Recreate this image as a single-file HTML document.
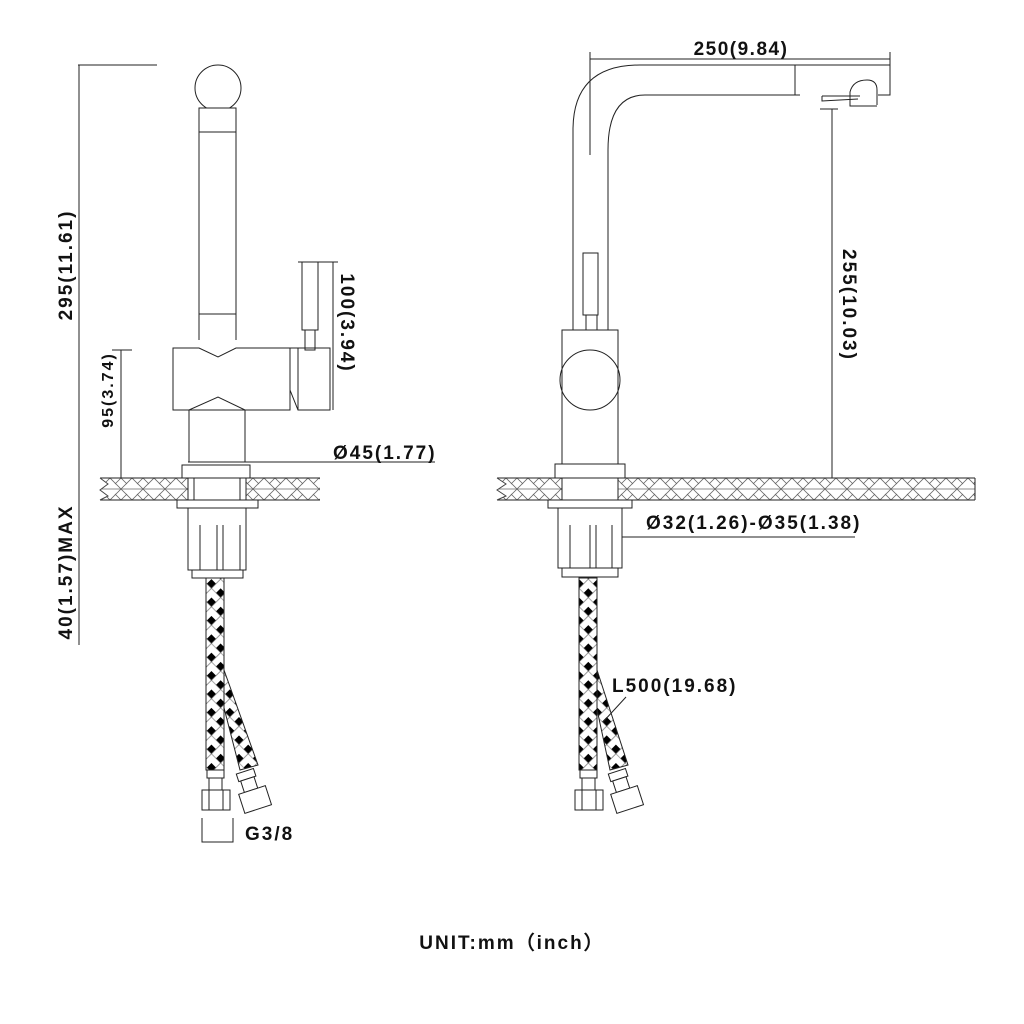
<!DOCTYPE html>
<html><head><meta charset="utf-8"><style>
html,body{margin:0;padding:0;background:#fff;}
svg{display:block;}
text{font-family:"Liberation Sans",Arial,sans-serif;font-weight:bold;fill:#111;}
</style></head><body>
<svg width="1024" height="1024" viewBox="0 0 1024 1024" xmlns="http://www.w3.org/2000/svg">
<defs>
<pattern id="hatch" x="0" y="478" width="22" height="22" patternUnits="userSpaceOnUse">
<path d="M0 0 L11 11 L0 22 M22 0 L11 11 L22 22 M0 11 L22 11 M11 0 L5 6 M11 0 L17 6 M11 22 L5 16 M11 22 L17 16" stroke="#666" stroke-width="0.8" fill="none"/>
</pattern>
<pattern id="braid" width="13" height="13" patternUnits="userSpaceOnUse" patternTransform="rotate(45)">
<rect width="13" height="13" fill="#fff"/>
<rect x="0" y="0" width="6.5" height="6.5" fill="#000"/>
<path d="M0 6.5 H13 M6.5 0 V13" stroke="#555" stroke-width="0.6"/>
</pattern>
</defs>
<g fill="none" stroke="#222" stroke-width="1">
<line x1="78" y1="65" x2="157" y2="65"/>
<line x1="79" y1="65" x2="79" y2="645"/>
<line x1="112" y1="350" x2="132" y2="350"/>
<line x1="121" y1="350" x2="121" y2="478"/>
<line x1="298" y1="262" x2="338" y2="262"/>
<line x1="333" y1="262" x2="333" y2="410"/>
<line x1="188" y1="462" x2="435" y2="462"/>
<circle cx="218" cy="88" r="23"/>
<rect x="199" y="108" width="37" height="24" fill="#fff"/>
<line x1="199" y1="132" x2="199" y2="340"/>
<line x1="236" y1="132" x2="236" y2="340"/>
<line x1="199" y1="314" x2="236" y2="314"/>
<path d="M173 348 H199 L218 357 L236 348 H290 V410 H245 L218 397 L189 410 H173 Z"/>
<path d="M290 348 H330 V410 H298 L290 390 Z"/>
<line x1="298" y1="410" x2="298" y2="348"/>
<rect x="302" y="262" width="16" height="68"/>
<rect x="305" y="330" width="10" height="20"/>
<rect x="189" y="410" width="56" height="52"/>
<rect x="182" y="465" width="68" height="13"/>
<rect x="100" y="478" width="220" height="22" fill="url(#hatch)" stroke="none"/>
<line x1="100" y1="478" x2="320" y2="478"/>
<line x1="100" y1="500" x2="320" y2="500"/>
<polyline points="100,478 108,484 100,490 108,496 100,500" fill="#fff" stroke="#444"/>
<rect x="188" y="478" width="58" height="22" fill="#fff"/>
<line x1="194" y1="478" x2="194" y2="500"/><line x1="240" y1="478" x2="240" y2="500"/>
<rect x="177" y="500" width="81" height="8" fill="#fff"/>
<rect x="188" y="508" width="58" height="62" fill="#fff"/>
<line x1="200" y1="525" x2="200" y2="570"/><line x1="217" y1="525" x2="217" y2="570"/><line x1="223" y1="525" x2="223" y2="570"/><line x1="240" y1="525" x2="240" y2="570"/>
<rect x="192" y="570" width="51" height="8" fill="#fff"/>
<path d="M224 670 L258 765 L240 770 L222 700 Z" fill="url(#braid)"/>
<rect x="206" y="578" width="18" height="192" fill="url(#braid)"/>
<rect x="207" y="770" width="17" height="8" fill="#fff"/><rect x="209" y="778" width="13" height="12" fill="#fff"/>
<rect x="202" y="790" width="28" height="20" fill="#fff"/><line x1="209" y1="790" x2="209" y2="810"/><line x1="223" y1="790" x2="223" y2="810"/>
<g transform="rotate(-18 252 790)"><rect x="242" y="770" width="18" height="8" fill="#fff"/><rect x="244" y="778" width="14" height="12" fill="#fff"/><rect x="238" y="790" width="28" height="20" fill="#fff"/></g>
<polyline points="202,818 202,842 233,842 233,818"/>
<line x1="590" y1="52" x2="590" y2="155"/>
<line x1="890" y1="52" x2="890" y2="95"/>
<line x1="590" y1="59" x2="890" y2="59"/>
<line x1="820" y1="109" x2="838" y2="109"/>
<line x1="832" y1="109" x2="832" y2="478"/>
<line x1="620" y1="537" x2="855" y2="537"/>
<path d="M573 330 V130 Q573 65 640 65 H890 V95 H878"/>
<path d="M608 330 V150 Q608 95 645 95 H800"/>
<line x1="795" y1="65" x2="795" y2="95"/>
<path d="M877 105 V90 Q877 80 867 80 Q853 80 850 92 V106 H877"/>
<path d="M822 96 H860 M822 96 V101 L858 99"/>
<rect x="583" y="253" width="15" height="62"/>
<rect x="586" y="315" width="11" height="15"/>
<rect x="562" y="330" width="56" height="134" fill="#fff"/>
<circle cx="590" cy="380" r="30"/>
<rect x="555" y="464" width="70" height="14" fill="#fff"/>
<rect x="497" y="478" width="478" height="22" fill="url(#hatch)" stroke="none"/>
<line x1="497" y1="478" x2="975" y2="478"/>
<line x1="497" y1="500" x2="975" y2="500"/>
<polyline points="497,478 506,484 497,490 506,496 497,500" fill="#fff" stroke="#444"/>
<line x1="975" y1="478" x2="975" y2="500"/>
<rect x="562" y="478" width="56" height="22" fill="#fff"/>
<rect x="548" y="500" width="84" height="8" fill="#fff"/>
<rect x="558" y="508" width="64" height="60" fill="#fff"/>
<line x1="570" y1="525" x2="570" y2="568"/><line x1="590" y1="525" x2="590" y2="568"/><line x1="596" y1="525" x2="596" y2="568"/><line x1="612" y1="525" x2="612" y2="568"/>
<rect x="562" y="568" width="56" height="9" fill="#fff"/>
<path d="M597 670 L628 765 L610 770 L595 700 Z" fill="url(#braid)"/>
<rect x="579" y="578" width="18" height="192" fill="url(#braid)"/>
<rect x="580" y="770" width="17" height="8" fill="#fff"/><rect x="582" y="778" width="13" height="12" fill="#fff"/>
<rect x="575" y="790" width="28" height="20" fill="#fff"/><line x1="582" y1="790" x2="582" y2="810"/><line x1="596" y1="790" x2="596" y2="810"/>
<g transform="rotate(-18 624 790)"><rect x="614" y="770" width="18" height="8" fill="#fff"/><rect x="616" y="778" width="14" height="12" fill="#fff"/><rect x="610" y="790" width="28" height="20" fill="#fff"/></g>
<line x1="626" y1="697" x2="603" y2="722"/>
</g>
<g font-size="19" letter-spacing="2">
<text transform="translate(72 265) rotate(-90)" text-anchor="middle">295(11.61)</text>
<text transform="translate(72 572) rotate(-90)" text-anchor="middle">40(1.57)MAX</text>
<text transform="translate(113 390) rotate(-90)" text-anchor="middle" font-size="16" font-weight="normal">95(3.74)</text>
<text transform="translate(341 323) rotate(90)" text-anchor="middle">100(3.94)</text>
<text x="333" y="459">Ø45(1.77)</text>
<text x="741" y="55" text-anchor="middle" letter-spacing="1.5">250(9.84)</text>
<text transform="translate(843 305) rotate(90)" text-anchor="middle">255(10.03)</text>
<text x="646" y="529">Ø32(1.26)-Ø35(1.38)</text>
<text x="612" y="692">L500(19.68)</text>
<text x="245" y="840">G3/8</text>
<text x="512" y="949" text-anchor="middle">UNIT:mm（inch）</text>
</g>
</svg>
</body></html>
